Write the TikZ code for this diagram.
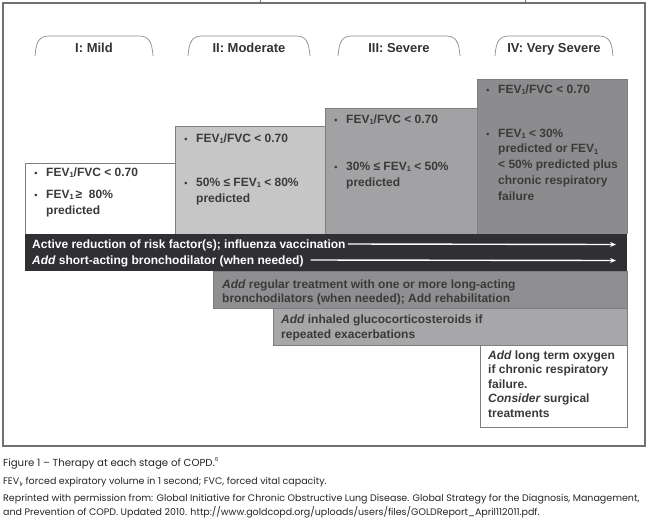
\documentclass[tikz,border=0pt]{standalone}
\usepackage{fontspec}
\setmainfont{Liberation Sans}
\newfontfamily\capfont{Poppins}
\usetikzlibrary{arrows.meta}
\definecolor{frame}{HTML}{707070}
\definecolor{darkbar}{HTML}{2F2F34}
\definecolor{gII}{HTML}{C6C6C7}
\definecolor{gIII}{HTML}{A2A2A4}
\definecolor{gIV}{HTML}{8C8C8F}
\definecolor{greg}{HTML}{8F8F92}
\definecolor{gglu}{HTML}{A7A7A9}
\definecolor{txt}{HTML}{3A3A3A}
\definecolor{edge}{HTML}{7E7E80}
\newcommand\fevsub[1]{\raisebox{-0.3ex}{\fontsize{7.5}{7.5}\selectfont #1}}
\tikzset{
  boxtext/.style={anchor=base west, inner sep=0pt, font=\bfseries\fontsize{12}{14}\selectfont, text=txt},
  bulletmark/.style={anchor=center, inner sep=0pt, font=\bfseries\fontsize{9}{9}\selectfont, text=txt},
  tabline/.style={draw=frame!80, line width=0.7pt},
  tabtext/.style={anchor=base, inner sep=0pt, font=\bfseries\fontsize{13}{15}\selectfont, text=black!80},
  stagebox/.style={draw=edge, line width=0.6pt},
  caption/.style={anchor=base west, inner sep=0pt, text=black!85},
  whitearrow/.style={draw=white, line width=1.4pt, -{Stealth[length=6pt,width=5pt]}}
}
\begin{document}
\begin{tikzpicture}[x=1pt,y=-1pt]
\useasboundingbox (0,0) rectangle (651,528);
\fill[white] (0,0) rectangle (651,528);
% top ticks and frame
\draw[frame, line width=1pt] (260,0) -- (260,3);
\draw[frame, line width=1pt] (525,0) -- (525,3);
\draw[frame, line width=1.2pt] (3,3) rectangle (645,446);
% tabs
\foreach \a/\b in {35/153, 188/310, 338/460, 495/613}{
  \draw[tabline] (\a,56) .. controls (\a+1,42) and (\a+4,36) .. (\a+14,36) -- (\b-14,36) .. controls (\b-4,36) and (\b-1,42) .. (\b,56);
}
\node[tabtext] (tabI) at (94,52) {I: Mild};
\node[tabtext] (tabII) at (249,52) {II: Moderate};
\node[tabtext] (tabIII) at (399,52) {III: Severe};
\node[tabtext] (tabIV) at (554,52) {IV: Very Severe};
% stage boxes
\fill[white] (25,163) rectangle (175,234);
\draw[stagebox] (25,234) -- (25,163) -- (175,163);
\fill[gII] (175,126) rectangle (325,234);
\draw[stagebox] (175,234) -- (175,126) -- (325,126);
\fill[gIII] (325,108) rectangle (477,234);
\draw[stagebox] (325,234) -- (325,108) -- (477,108);
\fill[gIV] (477,79) rectangle (627,234);
\draw[stagebox] (477,234) -- (477,79) -- (627,79) -- (627,234);
% box I
\node[boxtext] (sI1) at (46,176) {FEV\fevsub{1}/FVC < 0.70};
\node[bulletmark] (bI1) at (36,174.5) {•};
\node[boxtext] (sI2) at (46,198) {FEV\fevsub{1}\,≥\ \ 80\%};
\node[bulletmark] (bI2) at (36,196.5) {•};
\node[boxtext] (sI3) at (46,214) {predicted};
% box II
\node[boxtext] (sII1) at (196,142) {FEV\fevsub{1}/FVC < 0.70};
\node[bulletmark] (bII1) at (186,140.5) {•};
\node[boxtext] (sII2) at (196,186) {50\% ≤ FEV\fevsub{1} < 80\%};
\node[bulletmark] (bII2) at (186,184.5) {•};
\node[boxtext] (sII3) at (196,202) {predicted};
% box III
\node[boxtext] (sIII1) at (346,123) {FEV\fevsub{1}/FVC < 0.70};
\node[bulletmark] (bIII1) at (336,121.5) {•};
\node[boxtext] (sIII2) at (346,170) {30\% ≤ FEV\fevsub{1} < 50\%};
\node[bulletmark] (bIII2) at (336,168.5) {•};
\node[boxtext] (sIII3) at (346,186) {predicted};
% box IV
\node[boxtext] (sIV1) at (498,93) {FEV\fevsub{1}/FVC < 0.70};
\node[bulletmark] (bIV1) at (488,91.5) {•};
\node[boxtext] (sIV2) at (498,137) {FEV\fevsub{1} < 30\%};
\node[bulletmark] (bIV2) at (488,135.5) {•};
\node[boxtext] (sIV3) at (498,152.75) {predicted or FEV\fevsub{1}};
\node[boxtext] (sIV4) at (498,168.5) {< 50\% predicted plus};
\node[boxtext] (sIV5) at (498,184.25) {chronic respiratory};
\node[boxtext] (sIV6) at (498,200) {failure};
% dark bar
\fill[darkbar] (25,234) rectangle (627,271);
\node[boxtext, text=white] (bar1) at (32,248) {Active reduction of risk factor(s); influenza vaccination};
\node[boxtext, text=white] (bar2) at (32,264) {\itshape Add\upshape{} short-acting bronchodilator (when needed)};
\coordinate (e1) at (616,244.5);
\coordinate (e2) at (616,260.5);
\draw[whitearrow] ([xshift=2pt,yshift=4pt]bar1.base east) -- (e1);
\draw[whitearrow] ([xshift=7pt,yshift=4pt]bar2.base east) -- (e2);
% regular treatment
\filldraw[fill=greg, draw=edge, line width=0.6pt] (213,271) rectangle (627,308);
\node[boxtext] (reg1) at (222,288) {\itshape Add\upshape{} regular treatment with one or more long-acting};
\node[boxtext] (reg2) at (222,302) {bronchodilators (when needed); Add rehabilitation};
% glucocorticosteroids
\filldraw[fill=gglu, draw=edge, line width=0.6pt] (273,308) rectangle (627,345);
\node[boxtext] (glu1) at (281,323) {\itshape Add\upshape{} inhaled glucocorticosteroids if};
\node[boxtext] (glu2) at (281,338) {repeated exacerbations};
% oxygen
\filldraw[fill=white, draw=edge, line width=0.8pt] (480,345) rectangle (627,427);
\node[boxtext] (oxy1) at (488,359) {\itshape Add\upshape{} long term oxygen};
\node[boxtext] (oxy2) at (488,373.5) {if chronic respiratory};
\node[boxtext] (oxy3) at (488,388) {failure.};
\node[boxtext] (oxy4) at (488,402.5) {\itshape Consider\upshape{} surgical};
\node[boxtext] (oxy5) at (488,417) {treatments};
% captions
\node[caption, font=\capfont\fontsize{10.2}{12}\selectfont] (cap1) at (3,466) {Figure 1 – Therapy at each stage of COPD.\raisebox{0.8ex}{\fontsize{5.5}{5.5}\selectfont 6}};
\node[caption, font=\capfont\fontsize{9.5}{11}\selectfont] (cap2) at (3,484.5) {FEV\raisebox{-0.4ex}{\fontsize{6}{6}\selectfont 1}, forced expiratory volume in 1 second; FVC, forced vital capacity.};
\node[caption, font=\capfont\fontsize{9.5}{11}\selectfont] (cap3) at (3,501.5) {Reprinted with permission from: Global Initiative for Chronic Obstructive Lung Disease. Global Strategy for the Diagnosis, Management,};
\node[caption, font=\capfont\fontsize{9.5}{11}\selectfont] (cap4) at (3,515.5) {and Prevention of COPD. Updated 2010. http://www.goldcopd.org/uploads/users/files/GOLDReport\_April112011.pdf.};
\end{tikzpicture}
\end{document}
